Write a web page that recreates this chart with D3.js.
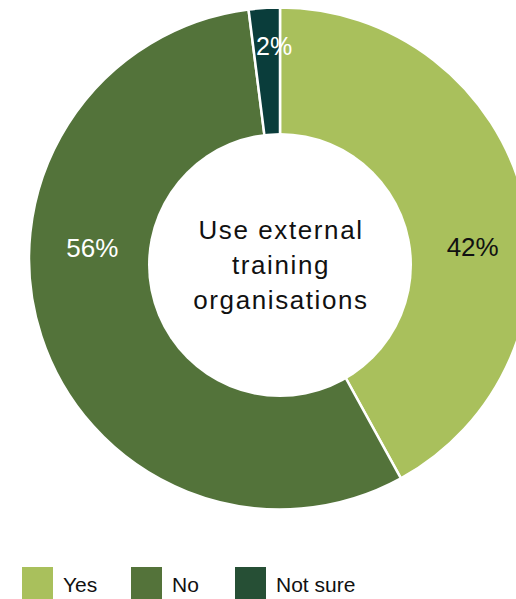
<!DOCTYPE html>
<html>
<head>
<meta charset="utf-8">
<script src="https://cdn.jsdelivr.net/npm/d3@7"></script>
<style>
  html, body { margin: 0; padding: 0; background: #fff; }
  svg { display: block; }
</style>
</head>
<body>
<svg id="chart" width="516" height="599"></svg>
<script>
const categories = ["Yes", "No", "Not sure"];
const values = [42, 56, 2];
const labels = ["42%", "56%", "2%"];
const sliceColors = ["#a9c05c", "#53733a", "#0a3d3b"];
const legendColors = ["#a9c05c", "#54733a", "#264f35"];
const labelColors = ["#111111", "#ffffff", "#ffffff"];
const centerTitle = ["Use external", "training", "organisations"];

const svg = d3.select("#chart");
const cx = 280, cy = 258.5, R = 251;
const holeR = 132, holeDy = 6.5;

const data = categories.map((c, i) => ({ cat: c, value: values[i], label: labels[i], i }));
const pie = d3.pie().sort(null).value(d => d.value);
const arcs = pie(data);
const arc = d3.arc().innerRadius(0).outerRadius(R);

const g = svg.append("g").attr("transform", `translate(${cx},${cy})`);
g.selectAll("path.slice").data(arcs).join("path")
  .attr("class", "slice")
  .attr("d", arc)
  .attr("fill", d => sliceColors[d.data.i])
  .attr("stroke", "#ffffff")
  .attr("stroke-width", 2.5)
  .attr("stroke-linejoin", "round");

// hole
g.append("circle").attr("cx", 0).attr("cy", holeDy).attr("r", holeR).attr("fill", "#ffffff");

// slice labels
const midR = (R + holeR) / 2;
g.selectAll("text.pct").data(arcs).join("text")
  .attr("class", "pct")
  .each(function(d) {
    const span = d.endAngle - d.startAngle;
    let a, r;
    if (span > Math.PI / 2) {
      const mid = (d.startAngle + d.endAngle) / 2;
      a = mid < Math.PI ? Math.PI / 2 - 0.06 : 3 * Math.PI / 2 + 0.06;
      r = mid < Math.PI ? 193 : 188;
    } else {
      a = (d.startAngle + d.endAngle) / 2 + 0.035;
      r = 213;
    }
    d3.select(this)
      .attr("x", Math.sin(a) * r)
      .attr("y", -Math.cos(a) * r)
      .attr("dy", "0.36em");
  })
  .attr("text-anchor", "middle")
  .attr("font-family", "'Liberation Sans', Arial, sans-serif")
  .attr("font-size", d => d.data.value < 5 ? 25 : 26)
  .attr("fill", d => labelColors[d.data.i])
  .text(d => d.data.label);

// center title
const ct = g.append("text")
  .attr("text-anchor", "middle")
  .attr("font-family", "'Liberation Sans', Arial, sans-serif")
  .attr("font-size", 26)
  .attr("letter-spacing", 1.6)
  .attr("fill", "#111111");
centerTitle.forEach((t, k) => {
  ct.append("tspan").attr("x", 1).attr("y", -19.5 + k * 35).text(t);
});

// legend
const legend = svg.append("g").attr("transform", "translate(22,567)");
const offsets = [0, 109, 213];
const items = legend.selectAll("g.item").data(categories).join("g")
  .attr("class", "item")
  .attr("transform", (d, i) => `translate(${offsets[i]},0)`);
items.append("rect").attr("width", 31).attr("height", 32)
  .attr("fill", (d, i) => legendColors[i]);
items.append("text")
  .attr("x", 41).attr("y", 25)
  .attr("font-family", "'Liberation Sans', Arial, sans-serif")
  .attr("font-size", 21)
  .attr("fill", "#111111")
  .text(d => d);
</script>
</body>
</html>
